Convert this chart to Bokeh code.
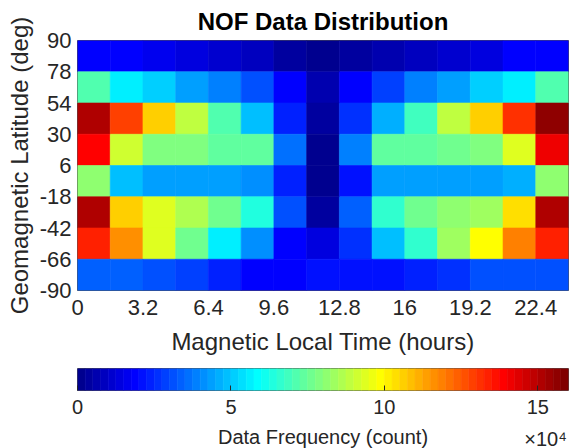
import numpy as np
from bokeh.plotting import figure
from bokeh.models import LinearColorMapper, ColumnDataSource, FixedTicker, Label, Range1d
from bokeh.transform import transform
from bokeh.layouts import column
from bokeh.embed import file_html
from bokeh.resources import INLINE

# ---------------- data ----------------
mlt_starts = [0.0, 1.6, 3.2, 4.8, 6.4, 8.0, 9.6, 11.2, 12.8, 14.4, 16.0, 17.6, 19.2, 20.8, 22.4]
mlt_width = 1.6
# latitude bin edges, top to bottom (8 rows)
lat_edges = [90, 67.5, 45, 22.5, 0, -22.5, -45, -67.5, -90]
lat_tick_labels = ["90", "78", "54", "30", "6", "-18", "-42", "-66", "-90"]
x_tick_values = [0, 3.2, 6.4, 9.6, 12.8, 16, 19.2, 22.4]
x_tick_labels = ["0", "3.2", "6.4", "9.6", "12.8", "16", "19.2", "22.4"]

# counts per cell, rows from top (north) to bottom (south)
row_78_90 = [18500, 18500, 16000, 13500, 11500, 8500, 4000, 2000, 2500, 5000, 9000, 11500, 14000, 17500, 18000]
row_54_78 = [70000, 55000, 50000, 42500, 37500, 30000, 18000, 5000, 18000, 27500, 37500, 42500, 50000, 55000, 70000]
row_30_54 = [150000, 127500, 106000, 87500, 70000, 49000, 22500, 4000, 25000, 45000, 67500, 87500, 107000, 130000, 155000]
row_6_30 = [137500, 90000, 79000, 79000, 74000, 74000, 36000, 500, 39000, 74000, 74000, 76000, 79000, 93000, 140000]
row_m18_6 = [80000, 47500, 44000, 44000, 44000, 41000, 22500, 0, 21000, 42500, 42500, 42500, 42500, 45000, 80000]
row_m42_m18 = [150000, 107000, 93000, 85000, 75000, 62500, 30000, 4500, 32500, 65000, 75000, 80000, 82500, 102500, 150000]
row_m66_m42 = [132500, 115000, 94000, 76000, 56500, 40000, 19000, 14000, 25000, 47500, 65000, 82500, 97500, 119000, 132500]
row_m90_m66 = [32500, 32500, 30000, 27500, 22500, 19000, 19000, 22000, 22000, 20000, 24000, 26000, 30000, 30000, 30000]
count_rows = [row_78_90, row_54_78, row_30_54, row_6_30, row_m18_6, row_m42_m18, row_m66_m42, row_m90_m66]

cbar_low, cbar_high = 0, 160000
cbar_ticks = [0, 50000, 100000, 150000]
cbar_tick_labels = ["0", "5", "10", "15"]
cbar_title = "Data Frequency (count)"
cbar_exponent = "×10⁴"


# ---------------- jet colormap (MATLAB jet(64)) ----------------
def jet(m=64):
    n = int(np.ceil(m / 4))
    u = np.concatenate([np.arange(1, n + 1) / n, np.ones(n - 1), np.arange(n, 0, -1) / n])
    g = int(np.ceil(n / 2)) - (1 if m % 4 == 1 else 0) + np.arange(1, len(u) + 1)
    r = g + n
    b = g - n
    g = g[g <= m]
    r = r[r <= m]
    b = b[b >= 1]
    J = np.zeros((m, 3))
    J[r - 1, 0] = u[:len(r)]
    J[g - 1, 1] = u[:len(g)]
    J[b - 1, 2] = u[len(u) - len(b):]
    return ["#%02x%02x%02x" % tuple(int(round(c * 255)) for c in rgb) for rgb in J]


palette = jet(64)
mapper = LinearColorMapper(palette=palette, low=cbar_low, high=cbar_high)

left, right, top, bottom, cnt = [], [], [], [], []
for i, row in enumerate(count_rows):
    for j, c in enumerate(row):
        left.append(mlt_starts[j])
        right.append(mlt_starts[j] + mlt_width)
        top.append(lat_edges[i])
        bottom.append(lat_edges[i + 1])
        cnt.append(c)
src = ColumnDataSource(dict(left=left, right=right, top=top, bottom=bottom, count=cnt))

FONT = "Liberation Sans"
TXT = "#262626"

p = figure(width=569, height=358, output_backend="svg", toolbar_location=None,
           x_range=Range1d(0, 24), y_range=Range1d(-90, 90),
           min_border_left=77, min_border_right=1, min_border_top=39, min_border_bottom=68)
p.quad(left="left", right="right", top="top", bottom="bottom", source=src,
       fill_color=transform("count", mapper), line_color=transform("count", mapper), line_width=0.6)

p.title.text = "NOF Data Distribution"
p.title.align = "center"
p.title.text_font = FONT
p.title.text_font_size = "24px"
p.title.text_font_style = "bold"
p.title.text_color = "#000000"
p.title.standoff = 11

p.xgrid.visible = False
p.ygrid.visible = False
p.outline_line_color = "#262626"
p.outline_line_alpha = 0.8
p.background_fill_color = "white"

p.xaxis.ticker = FixedTicker(ticks=x_tick_values)
p.xaxis.major_label_overrides = {v: s for v, s in zip(x_tick_values, x_tick_labels)}
p.yaxis.ticker = FixedTicker(ticks=lat_edges)
p.yaxis.major_label_overrides = {v: s for v, s in zip(lat_edges, lat_tick_labels)}

for ax in (p.xaxis[0], p.yaxis[0]):
    ax.major_tick_in = 0
    ax.major_tick_out = 0
    ax.minor_tick_in = 0
    ax.minor_tick_out = 0
    ax.axis_line_color = None
    ax.major_label_text_font = FONT
    ax.major_label_text_font_size = "22px"
    ax.major_label_text_color = TXT
    ax.axis_label_text_font = FONT
    ax.axis_label_text_font_size = "24px"
    ax.axis_label_text_font_style = "normal"
    ax.axis_label_text_color = TXT

p.xaxis.axis_label = "Magnetic Local Time (hours)"
p.xaxis.major_label_standoff = 9
p.xaxis.axis_label_standoff = 10
p.yaxis.axis_label = "Geomagnetic Latitude (deg)"
p.yaxis.major_label_standoff = 6
p.yaxis.axis_label_standoff = 4

# ---------------- colorbar figure ----------------
edges = np.linspace(cbar_low, cbar_high, len(palette) + 1)
cb_src = ColumnDataSource(dict(left=edges[:-1], right=edges[1:], color=palette))
cb_xr = Range1d(cbar_low, cbar_high)
cb = figure(width=569, height=62, output_backend="svg", toolbar_location=None,
            x_range=cb_xr, y_range=Range1d(0, 1),
            min_border_left=77, min_border_right=1, min_border_top=10, min_border_bottom=30)
cb.quad(left="left", right="right", top=1, bottom=0, source=cb_src,
        fill_color="color", line_color="color", line_width=0.6)
cb.xgrid.visible = False
cb.ygrid.visible = False
cb.yaxis.visible = False
cb.outline_line_color = "#555555"
cb.xaxis.ticker = FixedTicker(ticks=cbar_ticks)
cb.xaxis.major_label_overrides = {v: s for v, s in zip(cbar_ticks, cbar_tick_labels)}
cb.xaxis.major_tick_in = 5
cb.xaxis.major_tick_out = 0
cb.xaxis.major_tick_line_color = TXT
cb.xaxis.minor_tick_in = 0
cb.xaxis.minor_tick_out = 0
cb.xaxis.axis_line_color = None
cb.xaxis.major_label_text_font = FONT
cb.xaxis.major_label_text_font_size = "20px"
cb.xaxis.major_label_text_color = TXT
cb.xaxis.major_label_standoff = 9

# footer line with colorbar title and exponent
ft = figure(width=569, height=28, output_backend="svg", toolbar_location=None,
            x_range=cb_xr, y_range=Range1d(0, 28),
            min_border_left=77, min_border_right=1, min_border_top=0, min_border_bottom=0)
ft.xaxis.visible = False
ft.yaxis.visible = False
ft.xgrid.visible = False
ft.ygrid.visible = False
ft.outline_line_color = None
ft.add_layout(Label(x=(cbar_low + cbar_high) / 2, y=12, text=cbar_title,
                    text_font=FONT, text_font_size="20px", text_color=TXT,
                    text_baseline="alphabetic", text_align="center"))
ft.add_layout(Label(x=cbar_low + (cbar_high - cbar_low) * 0.91, y=10, text=cbar_exponent,
                    text_font=FONT, text_font_size="20px", text_color=TXT,
                    text_baseline="alphabetic", text_align="left"))

layout = column(p, cb, ft, spacing=0)
open("out.html", "w").write(file_html(layout, INLINE))
